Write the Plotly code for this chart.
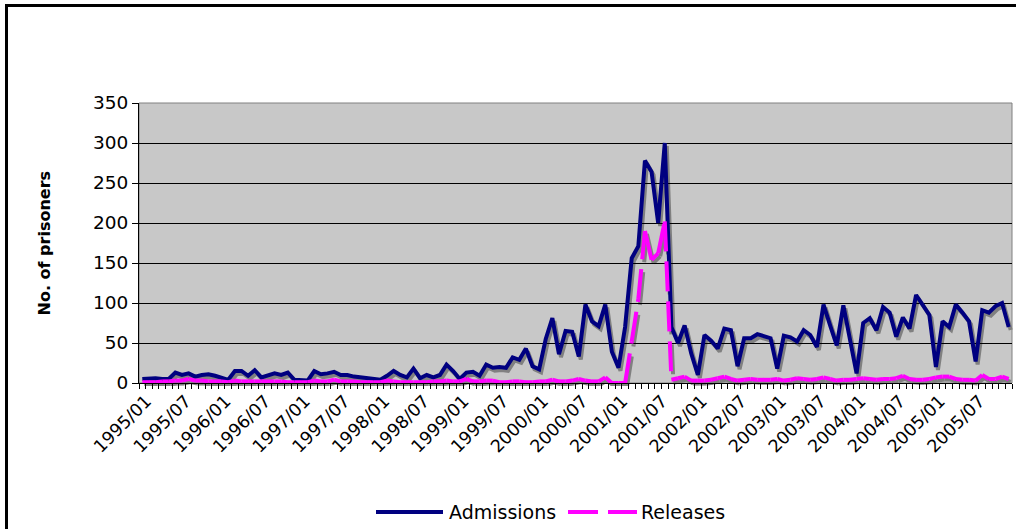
import plotly.graph_objects as go

years = list(range(1995, 2006))
months = [f"{m:02d}" for m in range(1, 13)]
categories = [f"{y}/{m}" for y in years for m in months]

admissions = [
    5, 6, 6, 5, 5, 13, 10, 12, 8, 10, 11, 9,          # 1995
    6, 4, 15, 15, 9, 16, 7, 10, 12, 10, 13, 4,        # 1996
    3, 3, 15, 11, 12, 14, 10, 10, 8, 7, 6, 5,         # 1997
    4, 9, 15, 10, 7, 18, 6, 10, 7, 10, 23, 15,        # 1998
    5, 13, 14, 9, 23, 19, 20, 19, 32, 29, 43, 21,     # 1999
    17, 55, 81, 36, 65, 64, 33, 98, 77, 71, 98, 39,   # 2000
    19, 70, 156, 171, 278, 264, 200, 300, 70, 50, 72, 37,  # 2001
    10, 60, 53, 43, 68, 66, 21, 56, 56, 61, 58, 56,   # 2002
    18, 59, 57, 52, 66, 60, 45, 98, 72, 47, 97, 56,   # 2003
    12, 75, 81, 66, 95, 88, 58, 82, 68, 110, 97, 85,  # 2004
    20, 77, 70, 98, 88, 77, 27, 91, 88, 96, 100, 70,  # 2005
]

releases = [
    1, 1, 1, 2, 2, 3, 3, 5, 3, 3, 2, 2,               # 1995
    2, 1, 3, 2, 2, 2, 2, 2, 2, 2, 1, 1,               # 1996
    1, 1, 3, 2, 2, 4, 2, 2, 2, 1, 1, 1,               # 1997
    1, 3, 2, 1, 1, 1, 1, 1, 2, 2, 3, 2,               # 1998
    2, 5, 2, 2, 3, 3, 1, 1, 2, 2, 1, 1,               # 1999
    2, 2, 4, 2, 2, 3, 5, 3, 2, 2, 7, 0,               # 2000
    0, 0, 52, 105, 190, 154, 162, 202, 4, 6, 8, 3,    # 2001
    3, 3, 4, 6, 8, 5, 3, 4, 5, 4, 4, 4,               # 2002
    5, 3, 4, 6, 5, 4, 5, 7, 5, 3, 4, 4,               # 2003
    5, 6, 5, 4, 5, 5, 6, 9, 5, 4, 4, 5,               # 2004
    7, 8, 8, 5, 4, 4, 3, 10, 5, 5, 8, 5,              # 2005
]

tick_labels = [c if c.endswith("/01") or c.endswith("/07") else "" for c in categories]
series_names = ["Admissions", "Releases"]

FONT = "DejaVu Sans"
W, H = 1016, 529
ML, MR, MT, MB = 139, 2, 103, 143
PW = W - ML - MR
PH = H - MT - MB
DX = 2 / PW
DY = 3 / PH
SHADOW = "#808080"
NAVY = "#000080"
MAGENTA = "#FF00FF"
DASH = "30px,10px"
LW = 4


def px_x(p):
    return (p - ML) / PW


def px_y(p):
    return (H - MB - p) / PH


fig = go.Figure()

# shadows (lower subplot, shifted right/down)
fig.add_trace(go.Scatter(x=categories, y=admissions, mode="lines", xaxis="x", yaxis="y",
                         line=dict(color=SHADOW, width=LW), showlegend=False, hoverinfo="skip"))
for i in range(len(categories) - 1):
    fig.add_trace(go.Scatter(x=categories[i:i + 2], y=releases[i:i + 2], mode="lines",
                             xaxis="x", yaxis="y",
                             line=dict(color=SHADOW, width=LW, dash=DASH),
                             showlegend=False, hoverinfo="skip"))

# main lines
fig.add_trace(go.Scatter(x=categories, y=admissions, mode="lines", name=series_names[0],
                         xaxis="x2", yaxis="y2", line=dict(color=NAVY, width=LW),
                         showlegend=False))
for i in range(len(categories) - 1):
    fig.add_trace(go.Scatter(x=categories[i:i + 2], y=releases[i:i + 2], mode="lines",
                             name=series_names[1], legendgroup="rel",
                             xaxis="x2", yaxis="y2",
                             line=dict(color=MAGENTA, width=LW, dash=DASH),
                             showlegend=False))

n = len(categories)
leg_y = px_y(512)
fig.update_layout(
    width=W, height=H,
    margin=dict(l=ML, r=MR, t=MT, b=MB, pad=0, autoexpand=False),
    paper_bgcolor="white",
    plot_bgcolor="rgba(0,0,0,0)",
    font=dict(family=FONT, size=18, color="black"),
    showlegend=False,
    xaxis=dict(domain=[DX, 1], anchor="y", visible=False, type="category",
               range=[-0.5, n - 0.5], showgrid=False, automargin=False),
    yaxis=dict(domain=[0, 1 - DY], anchor="x", visible=False, range=[0, 350],
               showgrid=False, automargin=False),
    xaxis2=dict(domain=[0, 1 - DX], anchor="y2", type="category", range=[-0.5, n - 0.5],
                tickmode="array", tickvals=categories, ticktext=tick_labels,
                tickson="boundaries", ticks="outside", ticklen=5, tickcolor="black",
                tickwidth=1, tickangle=-45, showline=True, linecolor="black", linewidth=1,
                ticklabelshift=4,
                showgrid=False, automargin=False, tickfont=dict(family=FONT, size=17.5)),
    yaxis2=dict(domain=[DY, 1], anchor="x2", range=[0, 350], dtick=50, tick0=0,
                ticks="outside", ticklen=6, tickcolor="black", showline=True,
                linecolor="black", linewidth=1, showgrid=True, gridcolor="black",
                gridwidth=1, zeroline=False, automargin=False,
                tickfont=dict(family=FONT, size=18.5)),
    shapes=[
        dict(type="rect", xref="paper", yref="paper", x0=0, x1=1 - DX, y0=DY, y1=1,
             fillcolor="#C8C8C8", line=dict(color="#808080", width=1), layer="below"),
        dict(type="rect", xref="paper", yref="paper",
             x0=px_x(6.5), x1=px_x(W + 20), y0=px_y(H + 20), y1=px_y(5.5),
             line=dict(color="black", width=3), fillcolor="rgba(0,0,0,0)", layer="below"),
        # legend samples
        dict(type="line", xref="paper", yref="paper", x0=px_x(376), x1=px_x(443),
             y0=leg_y, y1=leg_y, line=dict(color=NAVY, width=LW)),
        dict(type="line", xref="paper", yref="paper", x0=px_x(568), x1=px_x(637),
             y0=leg_y, y1=leg_y, line=dict(color=MAGENTA, width=LW, dash="30px,10px")),
    ],
    annotations=[
        dict(text="<b>No. of prisoners</b>", textangle=-90, xref="paper", yref="paper",
             x=px_x(43.5), y=px_y(243), showarrow=False,
             xanchor="center", yanchor="middle", font=dict(family=FONT, size=16)),
        dict(text=series_names[0], xref="paper", yref="paper", x=px_x(447), y=leg_y,
             showarrow=False, xanchor="left", yanchor="middle",
             font=dict(family=FONT, size=19)),
        dict(text=series_names[1], xref="paper", yref="paper", x=px_x(639), y=leg_y,
             showarrow=False, xanchor="left", yanchor="middle",
             font=dict(family=FONT, size=19)),
    ],
)

fig.write_html(
    "out.html",
    config={"displayModeBar": False, "staticPlot": True},
    post_script="document.body.style.margin='0';document.body.style.padding='0';"
                "document.body.style.overflow='hidden';",
)
